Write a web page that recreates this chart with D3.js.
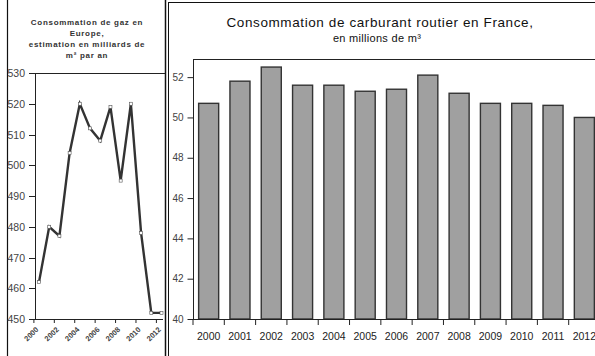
<!DOCTYPE html>
<html>
<head>
<meta charset="utf-8">
<script src="https://cdn.jsdelivr.net/npm/d3@7"></script>
<style>
  body { margin: 0; background: #fff; }
  text { font-family: "Liberation Sans", Arial, sans-serif; fill: #222; }
</style>
</head>
<body>
<div id="chart"></div>
<script>
// gas in Europe (left panel)
const gasYears = [2000, 2001, 2002, 2003, 2004, 2005, 2006, 2007, 2008, 2009, 2010, 2011, 2012];
const gasValues = [462, 480, 477, 504, 520, 512, 508, 519, 495, 520, 478, 452, 452];
const gasTicks = [450, 460, 470, 480, 490, 500, 510, 520, 530];
const gasLabelYears = [2000, 2002, 2004, 2006, 2008, 2010, 2012];
const gasTitle = ["Consommation de gaz en", "Europe,", "estimation en milliards de", "m\u00b2  par an"];

// road fuel in France (right panel)
const fuelYears = ["2000", "2001", "2002", "2003", "2004", "2005", "2006", "2007", "2008", "2009", "2010", "2011", "2012"];
const fuelValues = [50.7, 51.8, 52.5, 51.6, 51.6, 51.3, 51.4, 52.1, 51.2, 50.7, 50.7, 50.6, 50.0];
const fuelTicks = [40, 42, 44, 46, 48, 50, 52];
const fuelTitle = ["Consommation de carburant routier en France,", "en millions de m\u00b3"];

const width = 595, height = 356;

const svg = d3.select("#chart")
    .append("svg")
    .attr("width", width)
    .attr("height", height);

// panel borders
svg.append("line").attr("x1", 7.5).attr("x2", 7.5).attr("y1", 0).attr("y2", height)
    .attr("stroke", "#111").attr("stroke-width", 1.2);
svg.append("line").attr("x1", 165.5).attr("x2", 165.5).attr("y1", 0).attr("y2", height)
    .attr("stroke", "#111").attr("stroke-width", 1.5);
svg.append("line").attr("x1", 168.5).attr("x2", 168.5).attr("y1", 2).attr("y2", height)
    .attr("stroke", "#111").attr("stroke-width", 1);
svg.append("line").attr("x1", 168).attr("x2", width).attr("y1", 2.5).attr("y2", 2.5)
    .attr("stroke", "#111").attr("stroke-width", 1);

// ---------- left: gas line chart ----------
const gx = d3.scaleLinear().domain([2000, 2012]).range([39, 161.5]);
const gy = d3.scaleLinear().domain([450, 530]).range([319, 73]);
const catW = gx(2001) - gx(2000);

const left = svg.append("g");

left.selectAll("text.title")
    .data(gasTitle)
    .join("text")
    .attr("class", "title")
    .attr("x", 87)
    .attr("y", (d, i) => 25 + i * 11)
    .attr("text-anchor", "middle")
    .style("font-size", "8px")
    .style("font-weight", "bold")
    .style("letter-spacing", "0.7px")
    .style("fill", "#333")
    .text(d => d);

// frame
left.append("line").attr("x1", 35).attr("x2", 165).attr("y1", 73.5).attr("y2", 73.5)
    .attr("stroke", "#222").attr("stroke-width", 1);
left.append("line").attr("x1", 35.5).attr("x2", 35.5).attr("y1", 73).attr("y2", 319)
    .attr("stroke", "#222").attr("stroke-width", 1);
left.append("line").attr("x1", 35).attr("x2", 163).attr("y1", 319.5).attr("y2", 319.5)
    .attr("stroke", "#222").attr("stroke-width", 1);

// y ticks
left.selectAll("line.yt")
    .data(gasTicks)
    .join("line")
    .attr("class", "yt")
    .attr("x1", 29).attr("x2", 35)
    .attr("y1", d => Math.round(gy(d)) + 0.5)
    .attr("y2", d => Math.round(gy(d)) + 0.5)
    .attr("stroke", "#222");
left.selectAll("text.yl")
    .data(gasTicks)
    .join("text")
    .attr("class", "yl")
    .attr("x", 25)
    .attr("y", d => gy(d) + 4)
    .attr("text-anchor", "end")
    .style("font-size", "10.5px")
    .style("fill", "#444")
    .text(d => d);

// x ticks (category boundaries) + rotated labels
left.selectAll("line.xt")
    .data(gasLabelYears)
    .join("line")
    .attr("class", "xt")
    .attr("x1", d => gx(d) - catW / 2).attr("x2", d => gx(d) - catW / 2)
    .attr("y1", 319).attr("y2", 323)
    .attr("stroke", "#222");
left.selectAll("text.xl")
    .data(gasLabelYears)
    .join("text")
    .attr("class", "xl")
    .attr("transform", d => `translate(${gx(d)},${330}) rotate(-45)`)
    .attr("text-anchor", "end")
    .style("font-size", "7.5px")
    .style("font-weight", "bold")
    .style("fill", "#444")
    .text(d => d);

const line = d3.line()
    .x((d, i) => gx(gasYears[i]))
    .y(d => gy(d));

left.append("path")
    .datum(gasValues)
    .attr("d", line)
    .attr("fill", "none")
    .attr("stroke", "#333")
    .attr("stroke-width", 2.4)
    .attr("stroke-linejoin", "miter");

left.selectAll("rect.mk")
    .data(gasValues)
    .join("rect")
    .attr("class", "mk")
    .attr("x", (d, i) => gx(gasYears[i]) - 1.5)
    .attr("y", d => gy(d) - 1.5)
    .attr("width", 3).attr("height", 3)
    .attr("fill", "#fff")
    .attr("stroke", "#555")
    .attr("stroke-width", 0.6);

// ---------- right: fuel bar chart ----------
const fx = d3.scaleBand().domain(fuelYears).range([193, 600]).paddingInner(0.36).paddingOuter(0.18);
const fy = d3.scaleLinear().domain([40, 52.9]).range([319, 59]);

const right = svg.append("g");

right.append("text")
    .attr("x", 380).attr("y", 27)
    .attr("text-anchor", "middle")
    .style("font-size", "13.5px")
    .style("letter-spacing", "0.6px")
    .style("fill", "#111")
    .text(fuelTitle[0]);
right.append("text")
    .attr("x", 377).attr("y", 42)
    .attr("text-anchor", "middle")
    .style("font-size", "11px")
    .style("letter-spacing", "0.3px")
    .style("fill", "#111")
    .text(fuelTitle[1]);

// frame
right.append("line").attr("x1", 193).attr("x2", width).attr("y1", fy(52.9) + 0.5).attr("y2", fy(52.9) + 0.5)
    .attr("stroke", "#222");
right.append("line").attr("x1", 193.5).attr("x2", 193.5).attr("y1", fy(52.9)).attr("y2", fy(40))
    .attr("stroke", "#222");

// bars
right.selectAll("rect.bar")
    .data(fuelValues)
    .join("rect")
    .attr("class", "bar")
    .attr("x", (d, i) => fx(fuelYears[i]))
    .attr("y", d => fy(d))
    .attr("width", fx.bandwidth())
    .attr("height", d => fy(40) - fy(d))
    .attr("fill", "#a0a0a0")
    .attr("stroke", "#333")
    .attr("stroke-width", 1.4);

// axes
const yAxis = d3.axisLeft(fy).tickValues(fuelTicks).tickSize(6).tickFormat(d3.format("d"));
const ya = right.append("g").attr("transform", "translate(193.5,0)").call(yAxis);
ya.select(".domain").remove();
ya.selectAll("line").attr("stroke", "#222");
ya.selectAll("text").style("font-size", "10px").style("fill", "#444").attr("x", -10);

right.append("line").attr("x1", 193).attr("x2", width).attr("y1", 319.5).attr("y2", 319.5)
    .attr("stroke", "#222");

const step = fx.step();
right.selectAll("line.xt")
    .data(fuelYears)
    .join("line")
    .attr("class", "xt")
    .attr("x1", d => fx(d) - (step - fx.bandwidth()) / 2)
    .attr("x2", d => fx(d) - (step - fx.bandwidth()) / 2)
    .attr("y1", 319).attr("y2", 325)
    .attr("stroke", "#222");

right.selectAll("text.xl")
    .data(fuelYears)
    .join("text")
    .attr("class", "xl")
    .attr("x", d => fx(d) + fx.bandwidth() / 2)
    .attr("y", 340)
    .attr("text-anchor", "middle")
    .style("font-size", "10.5px")
    .style("fill", "#222")
    .text(d => d);
</script>
</body>
</html>
